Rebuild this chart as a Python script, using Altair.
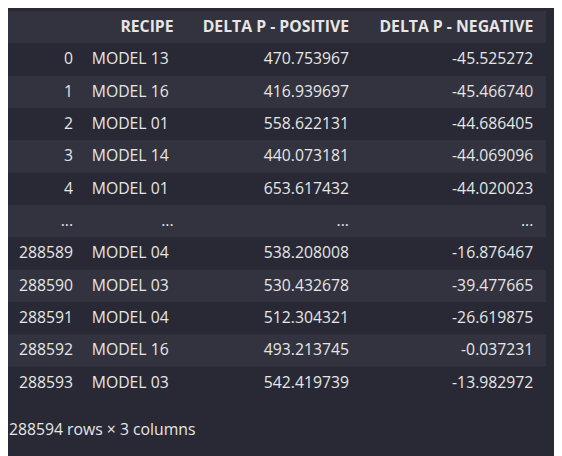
import altair as alt
import pandas as pd

index_labels = ["0", "1", "2", "3", "4", "...", "288589", "288590", "288591", "288592", "288593"]
recipe = ["MODEL 13", "MODEL 16", "MODEL 01", "MODEL 14", "MODEL 01", "...",
          "MODEL 04", "MODEL 03", "MODEL 04", "MODEL 16", "MODEL 03"]
delta_pos = ["470.753967", "416.939697", "558.622131", "440.073181", "653.617432", "...",
             "538.208008", "530.432678", "512.304321", "493.213745", "542.419739"]
delta_neg = ["-45.525272", "-45.466740", "-44.686405", "-44.069096", "-44.020023", "...",
             "-16.876467", "-39.477665", "-26.619875", "-0.037231", "-13.982972"]
headers = ["", "RECIPE", "DELTA P - POSITIVE", "DELTA P - NEGATIVE"]
footer = "288594 rows × 3 columns"

# column anchors (pixel layout) and alignment
col_x = [66, 85, 346, 533]
col_align = ["right", "left", "right", "right"]
header_x = [66, 168, 346, 533]

W, H = 554, 448
BG, STRIPE, FG = "#282934", "#32333e", "#e6e6e6"
FONT = "Open Sans"

cells = []
for r in range(len(index_labels)):
    for c, col in enumerate([index_labels, recipe, delta_pos, delta_neg]):
        t = col[r]
        # pandas right-aligns the ellipsis cell of text columns
        if t == "...":
            cells.append({"row": r, "x": header_x[c], "align": "right", "text": t})
        else:
            cells.append({"row": r, "x": col_x[c], "align": col_align[c], "text": t})
cells = pd.DataFrame(cells)
head = pd.DataFrame({"row": -1, "x": header_x, "text": headers})
stripes = pd.DataFrame({"row": [-1] + [r for r in range(len(index_labels)) if r % 2 == 1]})
stripes["y0"] = stripes["row"] - 0.5
stripes["y1"] = stripes["row"] + 0.5
foot = pd.DataFrame({"row": [11.45], "x": [1], "text": [footer]})

xs = alt.Scale(domain=[0, W], range=[0, W])
ys = alt.Scale(domain=[-1.494, 12.165], reverse=True, nice=False, zero=False)
X = lambda: alt.X("x:Q", scale=xs, axis=None)
Y = lambda: alt.Y("row:Q", scale=ys, axis=None)

bands = alt.Chart(stripes).mark_rect(color=STRIPE).encode(
    x=alt.value(-2), x2=alt.value(546),
    y=alt.Y("y0:Q", scale=ys, axis=None), y2="y1:Q",
)

def txt(df, align, bold=False):
    return alt.Chart(df).mark_text(
        align=align, baseline="middle", font=FONT, fontSize=16,
        fontWeight="bold" if bold else "normal", color=FG,
    ).encode(x=X(), y=Y(), text="text:N")

layers = [bands]
for a in ["left", "right"]:
    layers.append(txt(cells[cells["align"] == a], a))
layers.append(txt(head, "right", bold=True))
layers.append(txt(foot, "left"))

chart = alt.layer(*layers).properties(
    width=W, height=H, background=BG, padding=0,
    autosize=alt.AutoSizeParams(type="none"),
).configure_view(stroke=None, fill=BG)

chart.save("out.html", embed_options={"renderer": "svg", "actions": False})
